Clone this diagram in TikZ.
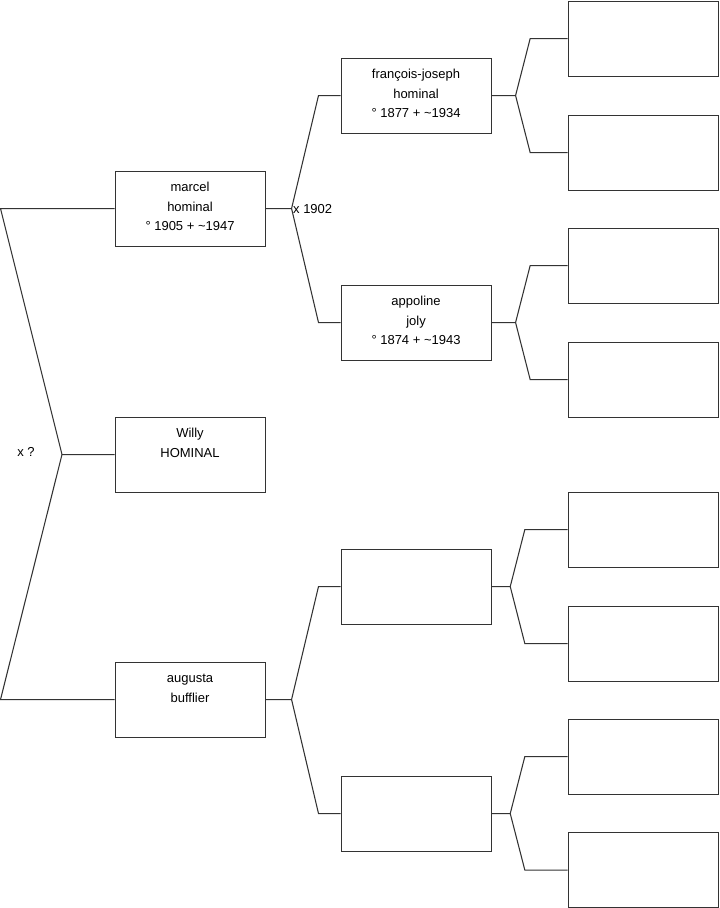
\documentclass[tikz,border=0pt]{standalone}
\usepackage{fontspec}
\setmainfont{Liberation Sans}
\usetikzlibrary{positioning,calc}

% text of a person, set from the top of its box
\newcommand{\who}[1]{\parbox[t][56.25pt][t]{112pt}{\centering\rule{0pt}{15.5pt}#1}}

\begin{document}
\begin{tikzpicture}[
    x=0.75pt, y=-0.75pt,
    font=\fontsize{9.75}{14.6}\selectfont,
    person/.style={
      draw=black!80, line width=0.8pt, inner sep=0pt, anchor=north west,
      minimum width=112.5pt, minimum height=56.25pt
    },
    link/.style={draw=black!80, line width=0.8pt}
  ]
    \useasboundingbox (0,0) rectangle (719,908);

    % Generation 1
    \node[person] (marcel) at (114.5,170.5)
      {\who{marcel\\hominal\\° 1905 + \textasciitilde1947}};
    \node[person] (willy) at (114.5,416.5)
      {\who{Willy\\HOMINAL}};
    \node[person] (augusta) at (114.5,661.5)
      {\who{augusta\\bufflier}};

    % Generation 2
    \node[person] (francois) at (340.5,57.5)
      {\who{françois-joseph\\hominal\\° 1877 + \textasciitilde1934}};
    \node[person] (appoline) at (340.5,284.5)
      {\who{appoline\\joly\\° 1874 + \textasciitilde1943}};
    \node[person] (augpa) at (340.5,548.5) {};
    \node[person] (augma) at (340.5,775.5) {};

    % Generation 3 (empty)
    \node[person] (fpa) at (567.5,0.5) {};
    \node[person] (fma) at (567.5,114.5) {};
    \node[person] (apa) at (567.5,227.5) {};
    \node[person] (ama) at (567.5,341.5) {};
    \node[person] (gpa) at (567.5,491.5) {};
    \node[person] (gma) at (567.5,605.5) {};
    \node[person] (hpa) at (567.5,718.5) {};
    \node[person] (hma) at (567.5,832) {};

    % Parents of Willy
    \coordinate (root) at (willy.west -| 62,0);
    \draw[link] (marcel.west) -- (marcel.west -| 0.5,0) -- (root) -- (willy.west);
    \draw[link] (root) -- (augusta.west -| 0.5,0) -- (augusta.west);
    \node at (26,452) (mar1) {x ?};

    % Parents of marcel
    \coordinate (jmar) at ([xshift=19.5pt]marcel.east);
    \draw[link] (marcel.east) -- (jmar) -- ([xshift=-16.5pt]francois.west) -- (francois.west);
    \draw[link] (jmar) -- ([xshift=-16.5pt]appoline.west) -- (appoline.west);
    \node[anchor=west, inner sep=1pt] at (jmar) (mar2) {x 1902};

    % Parents of augusta
    \coordinate (jaug) at ([xshift=19.5pt]augusta.east);
    \draw[link] (augusta.east) -- (jaug) -- ([xshift=-16.5pt]augpa.west) -- (augpa.west);
    \draw[link] (jaug) -- ([xshift=-16.5pt]augma.west) -- (augma.west);

    % Generation 3 brackets
    \coordinate (jfra) at ([xshift=18pt]francois.east);
    \draw[link] (francois.east) -- (jfra) -- ([xshift=-28pt]fpa.west) -- (fpa.west);
    \draw[link] (jfra) -- ([xshift=-28pt]fma.west) -- (fma.west);

    \coordinate (japp) at ([xshift=18pt]appoline.east);
    \draw[link] (appoline.east) -- (japp) -- ([xshift=-28pt]apa.west) -- (apa.west);
    \draw[link] (japp) -- ([xshift=-28pt]ama.west) -- (ama.west);

    \coordinate (jgpa) at ([xshift=14pt]augpa.east);
    \draw[link] (augpa.east) -- (jgpa) -- ([xshift=-32pt]gpa.west) -- (gpa.west);
    \draw[link] (jgpa) -- ([xshift=-32pt]gma.west) -- (gma.west);

    \coordinate (jhpa) at ([xshift=14pt]augma.east);
    \draw[link] (augma.east) -- (jhpa) -- ([xshift=-32pt]hpa.west) -- (hpa.west);
    \draw[link] (jhpa) -- ([xshift=-32pt]hma.west) -- (hma.west);
  \end{tikzpicture}
\end{document}
